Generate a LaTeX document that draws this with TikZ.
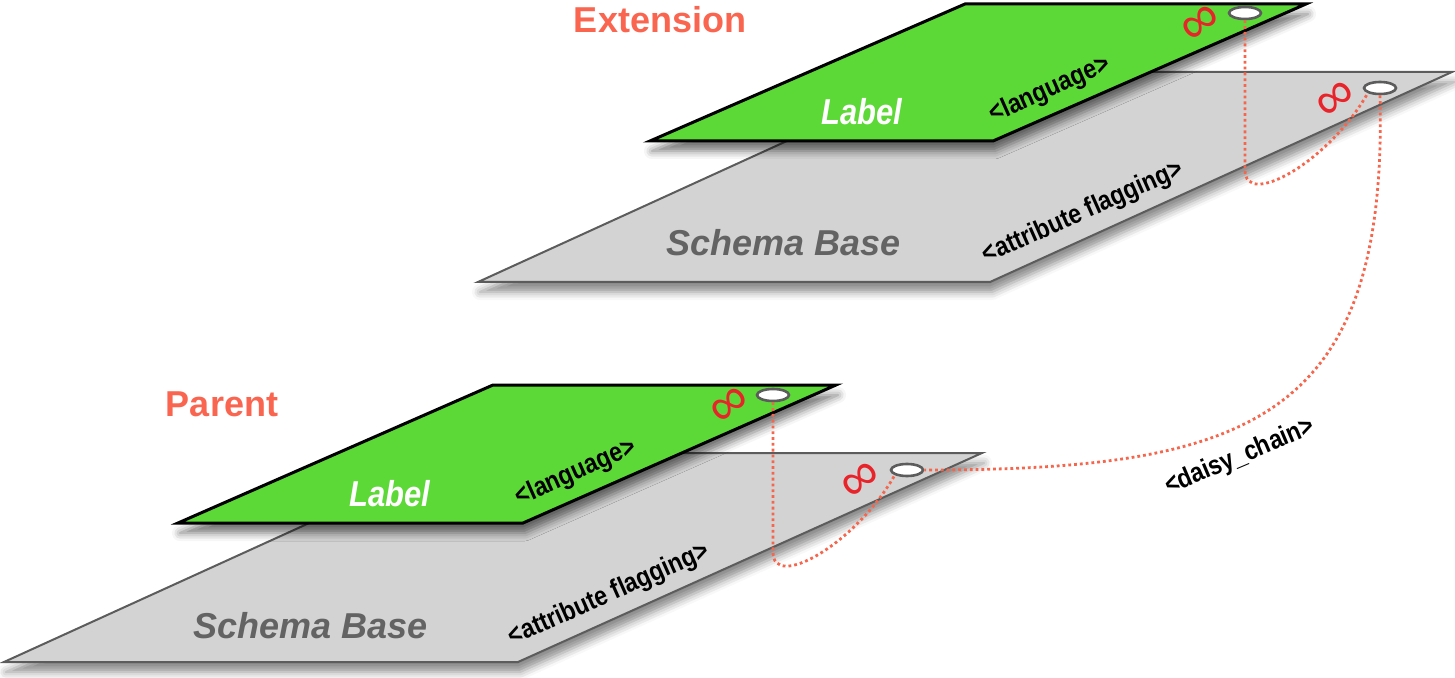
\documentclass[tikz,border=0pt]{standalone}
\usepackage{fontspec}
\setmainfont{Liberation Sans}
\newfontfamily\narrowfont[FakeStretch=0.86]{Liberation Sans}
\usetikzlibrary{shapes.geometric,positioning,shadows.blur}

\definecolor{leafgreen}{RGB}{93,217,55}
\definecolor{planegray}{RGB}{211,211,211}
\definecolor{edgegray}{RGB}{92,92,92}
\definecolor{coral}{RGB}{250,101,80}
\definecolor{chainred}{RGB}{245,102,77}
\definecolor{basetext}{RGB}{99,99,99}
\definecolor{loopred}{RGB}{232,35,42}

\tikzstyle{grayplane} = [
  fill=planegray, draw=edgegray, line width=1pt, blur shadow={shadow
  xshift=1pt, shadow yshift=-5pt, shadow opacity=45, shadow blur radius=4pt}
]
\tikzstyle{greenplane} = [
  fill=leafgreen, draw=black, line width=1.5pt, blur shadow={shadow
  xshift=1pt, shadow yshift=-5pt, shadow opacity=55, shadow blur radius=4pt}
]
\tikzstyle{hole} = [
  ellipse, draw=edgegray, line width=1.3pt, fill=white, minimum width =
  16pt, minimum height = 6pt, inner sep=0pt
]
\tikzstyle{infty} = [text=loopred, font=\fontsize{27}{27}\selectfont, rotate=38, inner sep=0pt]
\tikzstyle{layername} = [text=coral, font=\bfseries\fontsize{18}{18}\selectfont]
\tikzstyle{planename} = [font=\bfseries\itshape\fontsize{18}{18}\selectfont]
\tikzstyle{labelname} = [text=white, font=\narrowfont\bfseries\itshape\fontsize{18}{18}\selectfont]
\tikzstyle{tag} = [font=\narrowfont\bfseries\fontsize{13.5}{14}\selectfont, rotate=24, inner sep=0pt]
\tikzstyle{chain} = [draw=chainred, line width=1.4pt, dash pattern=on 1.4pt off 1.5pt]

\begin{document}
\begin{tikzpicture}[x=0.5pt, y=-0.5pt]
    \useasboundingbox (0,0) rectangle (1455,678);

    % extension layer
    \path[grayplane] (938,72) -- (1452,72) -- (990,282) -- (478,282) -- cycle;
    \path[greenplane] (965,4) -- (1306,4) -- (993,141) -- (650,141) -- cycle;
    % parent layer
    \path[grayplane] (463,453) -- (982,453) -- (518,662) -- (4,662) -- cycle;
    \path[greenplane] (493,385) -- (836,385) -- (523,523) -- (178,523) -- cycle;

    \node[layername] (extension) at (660,20) {Extension};
    \node[layername] (parent) at (222,404) {Parent};

    \node[labelname] (extLabel) at (862,112) {Label};
    \node[planename, text=basetext] (extBase) at (784,243) {Schema Base};
    \node[labelname] (parLabel) at (390,494) {Label};
    \node[planename, text=basetext] (parBase) at (311,626) {Schema Base};

    \node[tag] (extLang) at (1050,90) {<language>};
    \node[tag] (extFlag) at (1083,213) {<attribute flagging>};
    \node[tag] (parLang) at (576,473) {<language>};
    \node[tag] (parFlag) at (609,595) {<attribute flagging>};
    \node[tag, rotate=-1] (daisy) at (1240,457) {<daisy\_chain>};

    \node[infty] (extLabelLoop) at (1202,24) {∞};
    \node[infty] (extBaseLoop) at (1337,100) {∞};
    \node[infty] (parLabelLoop) at (731,406) {∞};
    \node[infty] (parBaseLoop) at (862,481) {∞};

    \node[hole] (extLabelHole) at (1245,13) {};
    \node[hole] (extBaseHole) at (1380,88) {};
    \node[hole] (parLabelHole) at (773,395) {};
    \node[hole] (parBaseHole) at (907,470) {};

    \draw[chain] (extLabelHole.south) -- ++(0,150)
      .. controls +(0,38) and +(-40,70) .. (extBaseHole.south west);
    \draw[chain] (parLabelHole.south) -- ++(0,150)
      .. controls +(0,38) and +(-40,70) .. (parBaseHole.south west);
    \draw[chain] (extBaseHole.south)
      .. controls +(8,325) and +(325,0) .. (parBaseHole.east);
  \end{tikzpicture}
\end{document}
